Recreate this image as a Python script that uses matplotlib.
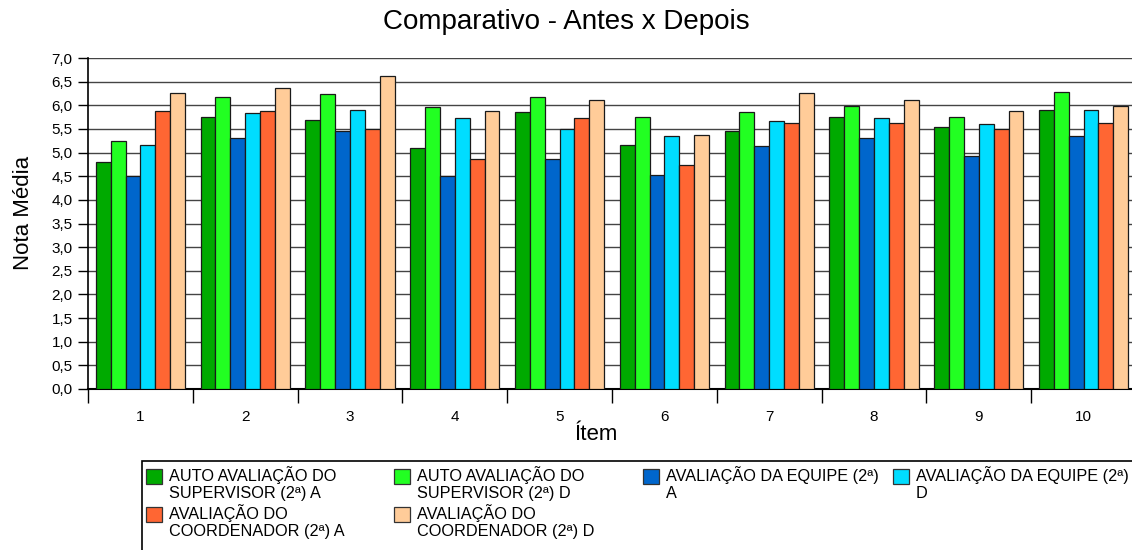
import numpy as np
import matplotlib
matplotlib.use("Agg")
import matplotlib.pyplot as plt
import matplotlib.patches as mpatches
from matplotlib.ticker import FuncFormatter, FixedLocator

plt.rcParams['font.family'] = ['Liberation Sans', 'DejaVu Sans']

# dados
itens = ['1', '2', '3', '4', '5', '6', '7', '8', '9', '10']
series = [
    "AUTO AVALIAÇÃO DO\nSUPERVISOR (2ª) A",
    "AUTO AVALIAÇÃO DO\nSUPERVISOR (2ª) D",
    "AVALIAÇÃO DA EQUIPE (2ª)\nA",
    "AVALIAÇÃO DA EQUIPE (2ª)\nD",
    "AVALIAÇÃO DO\nCOORDENADOR (2ª) A",
    "AVALIAÇÃO DO\nCOORDENADOR (2ª) D",
]
auto_sup_a = [4.81, 5.76, 5.68, 5.10, 5.86, 5.17, 5.45, 5.76, 5.55, 5.89]
auto_sup_d = [5.24, 6.18, 6.24, 5.96, 6.18, 5.76, 5.86, 5.99, 5.76, 6.28]
equipe_a = [4.50, 5.31, 5.45, 4.50, 4.86, 4.52, 5.13, 5.31, 4.92, 5.36]
equipe_d = [5.15, 5.84, 5.89, 5.73, 5.49, 5.34, 5.66, 5.73, 5.60, 5.89]
coord_a = [5.88, 5.88, 5.49, 4.87, 5.74, 4.74, 5.62, 5.62, 5.49, 5.62]
coord_d = [6.25, 6.37, 6.62, 5.87, 6.12, 5.37, 6.25, 6.12, 5.87, 5.99]

valores = [auto_sup_a, auto_sup_d, equipe_a, equipe_d, coord_a, coord_d]
cores = ['#00AA00', '#22FF22', '#0066CC', '#00DDFF', '#FF6633', '#FFCC99']

W, H = 1132, 550
fig = plt.figure(figsize=(W / 100, H / 100), dpi=100)


def fx(px):
    return px / W


def fy(py):
    return 1 - py / H


# eixo vai até além da borda direita (cortado como no original)
ax = fig.add_axes([fx(88), fy(389), fx(1136) - fx(88), fy(58) - fy(389)])

x = np.arange(len(itens))
larg = 0.142
for i, (vals, cor) in enumerate(zip(valores, cores)):
    ax.bar(x + (i - 2.5) * larg, vals, width=larg, color=cor,
           edgecolor='#1a1a1a', linewidth=0.9, zorder=3)

ax.set_xlim(-0.5, len(itens) - 0.5)
ax.set_ylim(0, 7)
ax.set_yticks(np.arange(0, 7.01, 0.5))
ax.yaxis.set_major_formatter(FuncFormatter(lambda v, p: f"{v:.1f}".replace('.', ',')))
ax.yaxis.grid(True, color='#444444', linewidth=1.0, zorder=0)
ax.tick_params(axis='y', length=7, width=1, labelsize=11, pad=4)

ax.set_xticks(x)
ax.set_xticklabels(itens)
ax.xaxis.set_minor_locator(FixedLocator(np.arange(-0.5, len(itens), 1.0)))
ax.tick_params(axis='x', which='major', length=0, labelsize=11, pad=15)
ax.tick_params(axis='x', which='minor', length=10, width=1)

for s in ['top', 'right']:
    ax.spines[s].set_visible(False)
ax.spines['left'].set_linewidth(1.2)
ax.spines['bottom'].set_linewidth(1.5)

fig.text(0.5, fy(22), 'Comparativo - Antes x Depois', ha='center', va='center', fontsize=20)
fig.text(fx(24), fy(213), 'Nota Média', rotation=90, ha='center', va='center', fontsize=16)
fig.text(fx(596), fy(434), 'Ítem', ha='center', va='center', fontsize=16)

# legenda manual (caixa cortada pela borda da figura)
fig.patches.append(mpatches.Rectangle((fx(142), fy(560)), fx(1200) - fx(142), fy(461) - fy(560),
                                      transform=fig.transFigure, fill=False,
                                      edgecolor='black', linewidth=1.2))
cols = [146, 394, 643, 893]
rows = [469, 507]
for i, (nome, cor) in enumerate(zip(series, cores)):
    cx = cols[i % 4]
    ry = rows[i // 4]
    fig.patches.append(mpatches.Rectangle((fx(cx), fy(ry + 15)), fx(16), fy(ry) - fy(ry + 15),
                                          transform=fig.transFigure, facecolor=cor,
                                          edgecolor='#333333', linewidth=0.9))
    fig.text(fx(cx + 23), fy(ry - 3), nome, ha='left', va='top', fontsize=11.7, linespacing=1.18)

fig.savefig('out.png', dpi=100)
